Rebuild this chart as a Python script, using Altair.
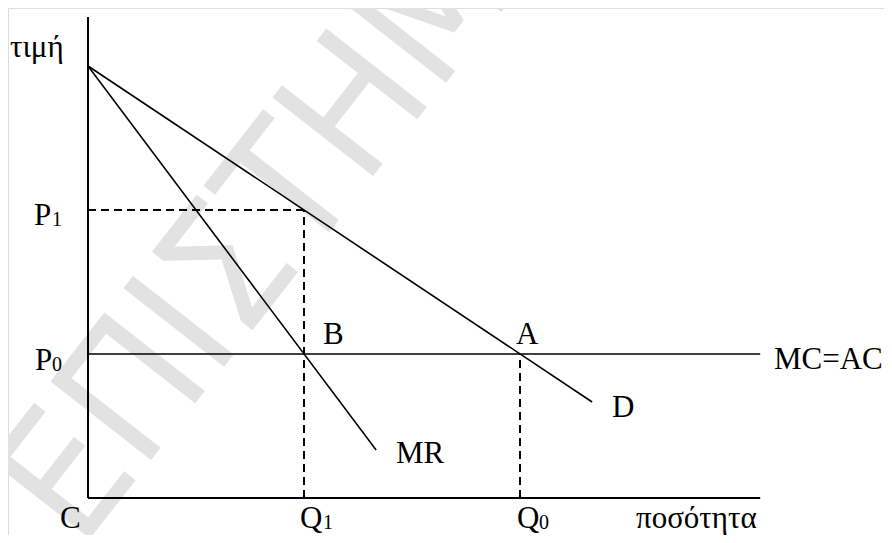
import altair as alt
import pandas as pd

# ---- data (quantity, price units; origin at C) ----
demand_q = [0.0, 11.67]
demand_p = [30.0, 6.67]
mr_q = [0.0, 6.67]
mr_p = [30.0, 3.33]
mc_q = [0.0, 15.56]
mc_p = [10.0, 10.0]
axis_x_q = [0.0, 15.56]
axis_x_p = [0.0, 0.0]
axis_y_q = [0.0, 0.0]
axis_y_p = [0.0, 33.4]

# dashed guides: (x, y, x2, y2)
guide_x = [0.0, 5.0, 10.0]
guide_y = [20.0, 0.0, 0.0]
guide_x2 = [5.0, 5.0, 10.0]
guide_y2 = [20.0, 20.0, 10.0]

# labels
label_text = ["τιμή", "P", "P", "C", "Q", "Q", "ποσότητα", "MC=AC", "D", "MR", "B", "A"]
label_q = [-1.806, -1.25, -1.227, -0.648, 4.907, 9.93, 12.685, 15.88, 12.13, 7.13, 5.44, 9.91]
label_p = [30.63, 18.96, 8.89, -2.083, -2.083, -2.083, -2.083, 8.96, 5.625, 2.43, 10.69, 10.69]

sub_text = ["1", "0", "1", "0"]
sub_q = [-0.833, -0.833, 5.44, 10.44]
sub_p = [18.89, 8.82, -2.15, -2.15]

watermark_text = ["ΕΠΙΣΤΗΜΗ"]
watermark_q = [4.79]
watermark_p = [21.39]

XS = alt.Scale(domain=[-1.852, 18.426], nice=False, zero=False)
YS = alt.Scale(domain=[-2.569, 34.03], nice=False, zero=False)

def seg_df(q, p, name):
    return pd.DataFrame({"q": q, "p": p, "s": name})

solid = pd.concat([
    seg_df(demand_q, demand_p, "D"),
    seg_df(mr_q, mr_p, "MR"),
    seg_df(mc_q, mc_p, "MC"),
])
axes_df = pd.concat([
    seg_df(axis_x_q, axis_x_p, "xa"),
    seg_df(axis_y_q, axis_y_p, "ya"),
])
guides = pd.DataFrame({"x": guide_x, "y": guide_y, "x2": guide_x2, "y2": guide_y2})
labels = pd.DataFrame({"t": label_text, "q": label_q, "p": label_p})
subs = pd.DataFrame({"t": sub_text, "q": sub_q, "p": sub_p})
wm = pd.DataFrame({"t": watermark_text, "q": watermark_q, "p": watermark_p})

X = alt.X("q:Q", scale=XS, axis=None)
Y = alt.Y("p:Q", scale=YS, axis=None)

wm_layer = alt.Chart(wm).mark_text(
    font="Liberation Sans Narrow, DejaVu Sans Condensed, DejaVu Sans",
    fontSize=175, color="#e2e2e2", angle=308,
    align="center", baseline="middle"
).encode(x=X, y=Y, text="t:N")

lines = alt.Chart(solid).mark_line(color="black", strokeWidth=1.6).encode(
    x=X, y=Y, detail="s:N")

axes_layer = alt.Chart(axes_df).mark_line(color="black", strokeWidth=2).encode(
    x=X, y=Y, detail="s:N")

guide_layer = alt.Chart(guides).mark_rule(
    color="black", strokeWidth=2, strokeDash=[8, 5]
).encode(
    x=alt.X("x:Q", scale=XS, axis=None), y=alt.Y("y:Q", scale=YS, axis=None),
    x2="x2:Q", y2="y2:Q")

label_layer = alt.Chart(labels).mark_text(
    font="Liberation Serif", fontSize=31, color="black",
    align="left", baseline="alphabetic"
).encode(x=X, y=Y, text="t:N")

sub_layer = alt.Chart(subs).mark_text(
    font="Liberation Serif", fontSize=20, color="black",
    align="left", baseline="alphabetic"
).encode(x=X, y=Y, text="t:N")

chart = alt.layer(
    wm_layer, guide_layer, lines, axes_layer, label_layer, sub_layer
).properties(
    width=876, height=527, padding=0, autosize=alt.AutoSizeParams(type="none")
).configure_view(stroke=None).configure(background="white")

chart.save("out.html", embed_options={"renderer": "svg", "actions": False})
